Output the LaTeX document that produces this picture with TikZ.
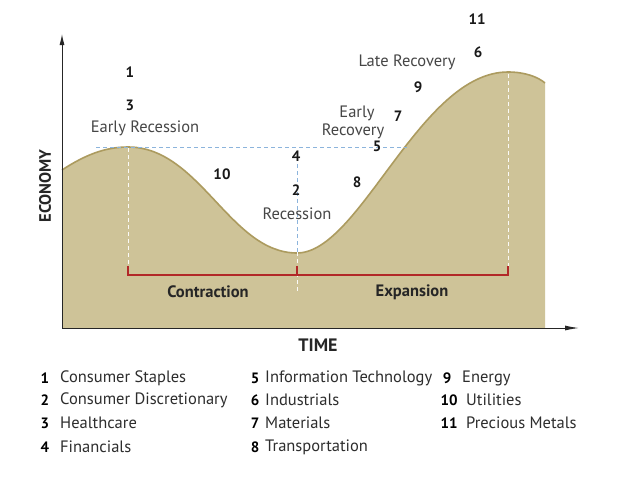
\documentclass[tikz,border=0pt]{standalone}
\usepackage{fontspec}
\setmainfont{PT Sans}
\usetikzlibrary{arrows.meta}
\definecolor{fillc}{RGB}{206,195,152}
\definecolor{edgec}{RGB}{172,155,95}
\definecolor{dblue}{RGB}{140,180,220}
\definecolor{bred}{RGB}{178,40,40}
\definecolor{lbl}{RGB}{70,70,70}
\definecolor{txt}{RGB}{45,45,45}
\begin{document}
\begin{tikzpicture}[x=1pt,y=-1pt,
  num/.style={font=\fontsize{15}{17}\selectfont\bfseries, text=black!90, inner sep=0pt},
  phase/.style={font=\fontsize{16.5}{18}\selectfont, text=lbl, inner sep=0pt, align=center},
  band/.style={font=\fontsize{16.5}{18}\selectfont\bfseries, text=black!85, inner sep=0pt},
  legnum/.style={font=\fontsize{15}{17}\selectfont\bfseries, text=black, inner sep=0pt},
  legtxt/.style={font=\fontsize{16.5}{18}\selectfont, text=txt, inner sep=0pt, anchor=west},
  bluedash/.style={dblue, line width=1pt, dash pattern=on 4pt off 3pt},
  whitedash/.style={white!92!fillc, line width=1pt, dash pattern=on 4pt off 3pt},
  bracket/.style={bred, line width=1.6pt},
  axis/.style={black!85, line width=1pt}]
\useasboundingbox (0,0) rectangle (628,480);
\fill[white] (0,0) rectangle (628,480);
% area
\fill[fillc] (62,328) -- (62,170) .. controls (85,155) and (105,147) .. (128,147)
  .. controls (200,147) and (230,253) .. (297,253)
  .. controls (360,253) and (420,72) .. (508,72)
  .. controls (525,72) and (538,77) .. (545,83) -- (545,328) -- cycle;
\draw[edgec, line width=1.6pt] (62,170) .. controls (85,155) and (105,147) .. (128,147)
  .. controls (200,147) and (230,253) .. (297,253)
  .. controls (360,253) and (420,72) .. (508,72)
  .. controls (525,72) and (538,77) .. (545,83);
% coordinates
\coordinate (o) at (62,328);
\coordinate (ytip) at (62,34);
\coordinate (xtip) at (579,328);
\coordinate (hl) at (96,147);
\coordinate (hr) at (407,147);
\coordinate (p1) at (128,148);
\coordinate (p1b) at (128,275);
\coordinate (tr) at (297,164);
\coordinate (trm) at (297,252);
\coordinate (trb) at (297,292);
\coordinate (p2) at (508,74);
\coordinate (p2b) at (508,275);
\coordinate (bl) at (128,266);
\coordinate (bm) at (297,266);
\coordinate (br) at (508,266);
\coordinate (bl0) at (128,275);
\coordinate (bm0) at (297,275);
\coordinate (br0) at (508,275);
% dashed guides
\draw[bluedash] (hl) -- (hr);
\draw[bluedash] (tr) -- (trm);
\draw[whitedash] (trm) -- (trb);
\draw[whitedash] (p1) -- (p1b);
\draw[whitedash] (p2) -- (p2b);
% bracket
\draw[bracket] (bl) -- (bl0) -- (br0) -- (br);
\draw[bracket] (bm) -- (bm0);
% axes
\draw[axis, -{Latex[length=11pt,width=5pt]}] (o) -- (ytip);
\draw[axis, -{Latex[length=14pt,width=5pt]}] (o) -- (xtip);
% axis labels
\node[band, font=\fontsize{18}{20}\selectfont\bfseries] (time) at (318,345) {TIME};
\node[band, rotate=90] (econ) at (45,186) {ECONOMY};
\node[band] (contr) at (208,292) {Contraction};
\node[band] (expan) at (412,292) {Expansion};
% phase labels & numbers
\node[num] (n1) at (130,72) {1};
\node[num] (n3) at (130,105) {3};
\node[phase] (er) at (145,128) {Early Recession};
\node[num] (n10) at (222,174) {10};
\node[num] (n4) at (296,156) {4};
\node[num] (n2) at (296,190) {2};
\node[phase] (rec) at (297,214) {Recession};
\node[num] (n8) at (357,182) {8};
\node[phase] (ery1) at (357,113) {Early};
\node[phase] (ery2) at (353,131) {Recovery};
\node[num] (n5) at (377,146) {5};
\node[num] (n7) at (398,116) {7};
\node[num] (n9) at (418,87) {9};
\node[phase] (lr) at (407,62) {Late Recovery};
\node[num] (n6) at (478,52) {6};
\node[num] (n11) at (477,19) {11};
% legend
\node[legnum] (l1) at (45,378) {1};  \node[legtxt] (t1) at (60,378) {Consumer Staples};
\node[legnum] (l2) at (45,400) {2};  \node[legtxt] (t2) at (60,400) {Consumer Discretionary};
\node[legnum] (l3) at (45,423) {3};  \node[legtxt] (t3) at (60,423) {Healthcare};
\node[legnum] (l4) at (45,447) {4};  \node[legtxt] (t4) at (60,447) {Financials};
\node[legnum] (l5) at (255,378) {5}; \node[legtxt] (t5) at (265,378) {Information Technology};
\node[legnum] (l6) at (255,400) {6}; \node[legtxt] (t6) at (265,400) {Industrials};
\node[legnum] (l7) at (255,423) {7}; \node[legtxt] (t7) at (265,423) {Materials};
\node[legnum] (l8) at (255,447) {8}; \node[legtxt] (t8) at (265,447) {Transportation};
\node[legnum] (l9) at (447,378) {9}; \node[legtxt] (t9) at (462,378) {Energy};
\node[legnum] (l10) at (449,400) {10}; \node[legtxt] (t10) at (466,400) {Utilities};
\node[legnum] (l11) at (449,423) {11}; \node[legtxt] (t11) at (466,423) {Precious Metals};
\end{tikzpicture}
\end{document}
